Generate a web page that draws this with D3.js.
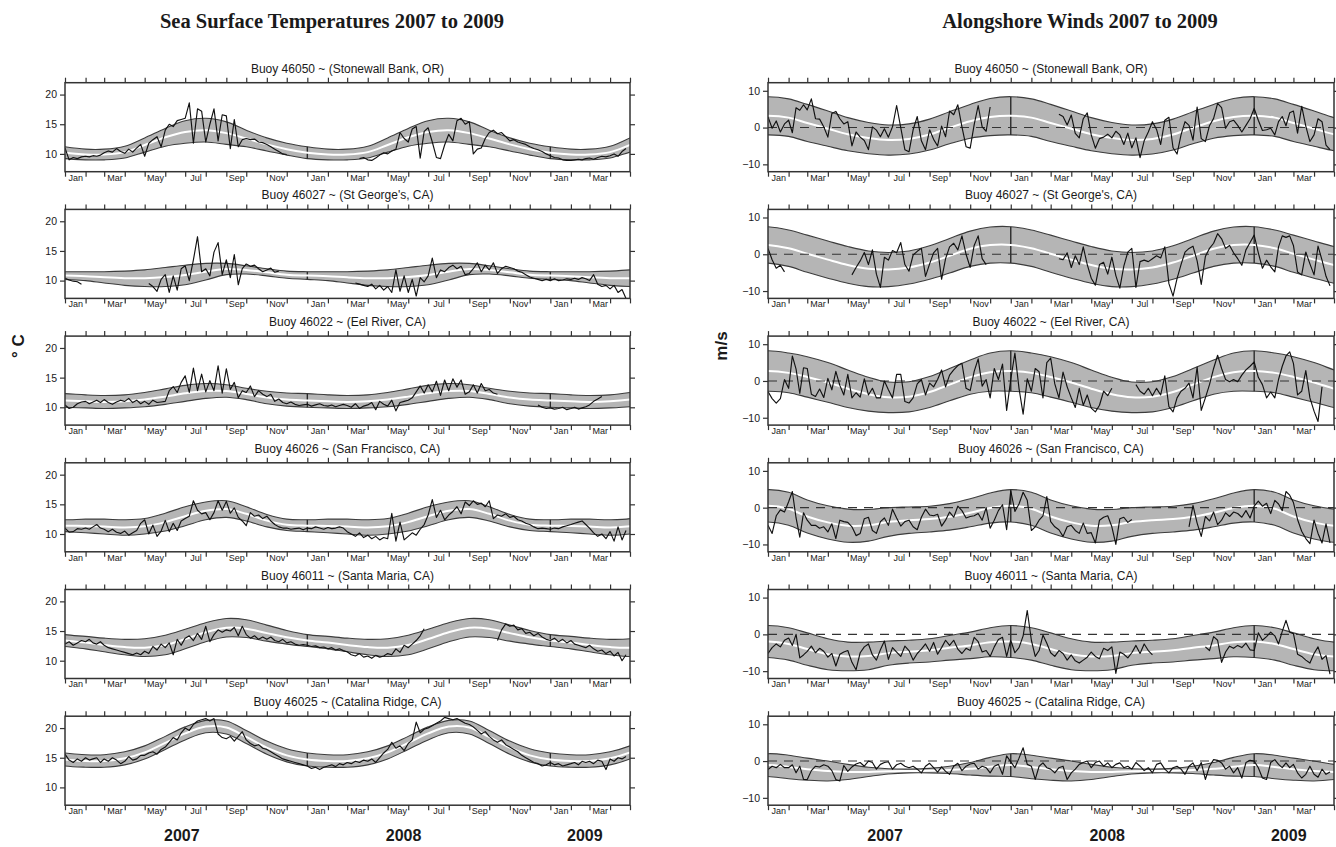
<!DOCTYPE html>
<html>
<head>
<meta charset="utf-8">
<script src="https://cdn.jsdelivr.net/npm/d3@7"></script>
<style>
  body { margin: 0; background: #fff; }
  svg { display: block; }
  text { font-family: "Liberation Sans", Arial, Helvetica, sans-serif; fill: #1a1a1a; }
</style>
</head>
<body>
<svg id="chart" width="1336" height="847"></svg>
<script>
// ---------------------------------------------------------------
// Buoy records, Jan 2007 – Apr 2009.
// Observations: 5 samples per calendar month (null = no data).
// Seasonal climatology: mean and spread at each month start (Jan..Dec).
// ---------------------------------------------------------------
const buoyTitles = [
  "Buoy 46050 ~ (Stonewall Bank, OR)",
  "Buoy 46027 ~ (St George's, CA)",
  "Buoy 46022 ~ (Eel River, CA)",
  "Buoy 46026 ~ (San Francisco, CA)",
  "Buoy 46011 ~ (Santa Maria, CA)",
  "Buoy 46025 ~ (Catalina Ridge, CA)"
];
const yearLabels = ["2007", "2008", "2009"];
const yearLabelDates = [new Date(2007, 5, 26), new Date(2008, 4, 25), new Date(2009, 1, 22)];
const sstTicks = [10, 15, 20];
const windTicks = [-10, 0, 10];

// --- Sea surface temperature climatology (°C) ---
const sst46050Mean   = [10.2, 9.9, 9.9, 10.3, 11.5, 12.8, 13.7, 14.0, 13.5, 12.6, 11.6, 10.8];
const sst46050Spread = [1.0, 0.9, 0.9, 1.0, 1.2, 1.5, 1.9, 2.0, 1.9, 1.4, 1.1, 1.0];
const sst46027Mean   = [10.85, 10.75, 10.55, 10.4, 10.4, 10.6, 10.95, 11.5, 11.95, 11.8, 11.4, 11.0];
const sst46027Spread = [0.65, 0.75, 0.95, 1.2, 1.4, 1.6, 1.65, 1.4, 0.95, 0.7, 0.6, 0.6];
const sst46022Mean   = [11.15, 11.0, 10.9, 11.0, 11.3, 11.8, 12.35, 12.75, 12.75, 12.25, 11.65, 11.3];
const sst46022Spread = [1.15, 1.1, 1.1, 1.1, 1.2, 1.3, 1.35, 1.25, 1.05, 0.95, 1.05, 1.1];
const sst46026Mean   = [11.4, 11.35, 11.25, 11.1, 11.3, 12.0, 13.0, 13.9, 14.2, 13.4, 12.25, 11.55];
const sst46026Spread = [1.0, 1.15, 1.25, 1.3, 1.3, 1.5, 1.6, 1.5, 1.4, 1.2, 1.05, 0.95];
const sst46011Mean   = [13.4, 13.05, 12.65, 12.3, 12.2, 12.65, 13.65, 14.8, 15.55, 15.4, 14.65, 13.95];
const sst46011Spread = [1.0, 1.05, 1.15, 1.3, 1.5, 1.65, 1.65, 1.6, 1.55, 1.5, 1.35, 1.15];
const sst46025Mean   = [14.7, 14.45, 14.45, 14.9, 15.9, 17.5, 19.1, 20.25, 20.1, 18.5, 16.7, 15.4];
const sst46025Spread = [1.1, 1.05, 1.05, 1.1, 1.1, 1.1, 1.1, 1.05, 1.1, 1.1, 1.1, 1.1];

// --- Alongshore wind climatology (m/s) ---
const wind46050Mean   = [3.2, 2.7, 1.25, -0.3, -1.8, -2.85, -3.4, -3.1, -1.9, -0.05, 1.7, 2.85];
const wind46050Spread = [5.2, 5.1, 5.05, 4.8, 4.5, 4.25, 4.1, 4.1, 4.2, 4.35, 4.6, 5.05];
const wind46027Mean   = [2.55, 1.65, 0.15, -1.45, -2.9, -3.95, -4.15, -3.6, -2.25, -0.4, 1.5, 2.5];
const wind46027Spread = [4.95, 4.95, 5.05, 5.05, 5.0, 4.85, 4.65, 4.5, 4.55, 4.7, 4.8, 4.9];
const wind46022Mean   = [2.7, 2.2, 1.1, -0.4, -2.1, -3.6, -4.45, -4.3, -3.0, -1.0, 1.05, 2.4];
const wind46022Spread = [5.5, 5.4, 5.5, 5.4, 5.1, 4.6, 4.15, 4.1, 4.2, 4.4, 4.65, 5.2];
const wind46026Mean   = [0.5, -0.3, -2.4, -4.0, -4.9, -4.8, -3.9, -3.4, -3.1, -2.5, -1.4, -0.1];
const wind46026Spread = [4.4, 4.5, 4.5, 4.5, 4.5, 4.3, 3.9, 3.6, 3.5, 3.6, 3.8, 4.1];
const wind46011Mean   = [-1.95, -2.6, -4.0, -5.4, -6.0, -5.85, -5.1, -4.7, -4.35, -3.65, -3.0, -2.15];
const wind46011Spread = [4.35, 4.4, 4.4, 4.2, 3.9, 3.75, 3.3, 3.1, 3.15, 3.35, 3.6, 3.95];
const wind46025Mean   = [-1.1, -1.6, -2.2, -2.7, -2.95, -2.95, -2.8, -2.7, -2.6, -2.4, -2.1, -1.55];
const wind46025Spread = [3.1, 3.2, 3.0, 2.7, 2.05, 1.25, 0.7, 0.5, 0.6, 1.0, 1.7, 2.55];

// --- Observed SST (°C) ---
const sst46050 = [
  11.0, 9.0, 9.4, 9.2, 9.5,   9.6, 9.5, 9.7, 9.6, 9.8,   10.2, 10.5, 10.3, 10.9, 10.4,
  10.1, 10.8, 10.3, 11.0, 11.6,   9.6, 11.8, 12.4, 12.9, 11.2,   14.0, 15.0, 14.6, 15.6, 15.8,
  16.0, 18.6, 11.8, 17.6, 17.2,   12.0, 15.0, 17.6, 12.2, 16.6,   16.4, 10.9, 15.8, 11.2, 12.4,
  12.6, 12.4, 12.5, 12.0, 11.9,   11.6, 11.2, 10.8, 10.4, 10.0,   9.9, null, null, null, null,
  null, null, null, null, null,   null, null, null, null, null,   null, null, null, 9.2, 9.4,
  9.0, 8.9, 9.3, 9.8, 10.2,   10.0, 10.5, 10.8, 13.6, 12.6,   12.0, 14.2, 14.6, 9.3, 13.8,
  14.4, 12.0, 9.4, 9.2, 11.5,   13.3, 12.2, 15.6, 16.0, 15.0,   15.4, 10.0, 10.8, 11.0, 12.6,
  13.6, 14.0, 13.4, 13.6, 12.9,   12.2, 12.4, 12.0, 11.8, 11.6,   11.2, 10.9, 10.7, 10.4, 10.0,
  9.7, 9.4, 9.3, 9.0, 8.9,   8.9, 9.0, 9.1, 9.0, 9.2,   9.3, 9.1, 9.4, 9.6, 9.5,
  9.7, 10.0, 9.6, 10.4, 10.9
];
const sst46027 = [
  10.4, 10.1, 9.9, 9.8, 9.4,   null, null, null, null, null,   null, null, null, null, null,
  null, null, null, null, null,   null, 9.5, 9.0, 8.2, 10.2,   11.0, 8.0, 10.8, 8.4, 12.0,
  12.5, 10.0, 13.5, 17.4, 11.5,   12.0, 10.8, 14.8, 16.4, 11.0,   13.5, 10.5, 14.4, 9.3, 12.0,
  12.8, 12.4, 12.6, 12.0, 11.5,   11.8, 12.1, 11.4, 11.6, null,   null, null, null, null, null,
  null, null, null, null, null,   null, null, null, null, null,   null, null, 9.6, 9.4, 9.2,
  9.0, 9.4, 8.6, 9.2, 8.4,   9.0, 8.0, 11.8, 8.2, 10.8,   8.0, 10.2, 7.4, 10.5, 9.8,
  10.8, 13.8, 10.5, 11.8, 11.5,   12.2, 12.6, 12.0, 12.4, 11.0,   11.2, 12.0, 13.0, 11.5, 12.6,
  11.8, 13.0, 11.2, 12.0, 12.4,   12.2, 12.0, 11.6, 11.4, 11.0,   10.6, 10.4, 10.2, 10.0, 10.2,
  10.0, 10.3, 10.0, 10.1, 10.3,   10.2, 10.4, 10.2, 10.5, 10.3,   10.0, 11.0, 9.4, 9.0, 9.2,
  8.6, 9.2, 8.0, 8.5, 7.0
];
const sst46022 = [
  10.4, 9.8, 10.0, 10.6, 10.9,   11.0, 10.6, 10.9, 11.2, 10.8,   11.3, 10.8, 10.5, 10.9, 11.2,
  11.0, 11.5, 10.8, 11.2, 10.6,   11.0, 10.5, 11.2, 10.8, 10.9,   11.0, 12.8, 13.5, 12.5, 14.2,
  15.3, 12.5, 16.6, 12.8, 15.6,   12.6, 14.5, 12.8, 17.0, 12.4,   16.5, 13.0, 14.2, 11.6, 12.8,
  12.5, 13.6, 11.8, 12.8, 12.2,   11.8, 12.2, 11.0, 11.4, 10.8,   10.6, 10.9, 10.5, 10.3, 10.4,
  10.5, 10.2, 10.4, 10.6, 10.3,   10.2, 10.4, 10.1, 10.3, 10.5,   10.3, 10.0, 10.6, 9.8, 10.2,
  10.4, 10.8, 9.6, 11.0, 10.5,   10.2, 11.2, 9.4, 10.8, 11.0,   11.2, 11.6, 12.6, 13.6, 12.4,
  13.8, 12.6, 14.4, 12.0, 14.6,   12.8, 14.8, 13.4, 14.6, 12.2,   12.6, 13.8, 12.4, 14.0, 12.8,
  13.0, 12.4, 12.2, null, null,   null, null, null, null, null,   null, null, 10.4, 10.0, 9.8,
  9.9, 9.7, 9.8, 10.0, 9.6,   9.8, 10.0, 9.7, 9.9, 10.1,   10.4, 11.0, 11.4, 11.8, null,
  null, null, null, null, null
];
const sst46026 = [
  11.0, 10.3, 10.4, 10.9, 10.8,   11.0, 10.8, 11.2, 11.6, 11.0,   10.8, 10.4, 10.8, 10.3, 10.1,
  10.5, 9.8, 10.2, 10.6, 11.8,   12.4, 10.0, 11.5, 9.6, 10.5,   12.3, 10.4, 11.8, 10.6, 12.2,
  12.6, 13.0, 15.6, 14.0, 13.4,   13.6, 12.4, 13.6, 15.6, 14.0,   15.5, 13.5, 14.4, 12.8, 12.2,
  11.4, 13.6, 13.0, 13.2, 12.6,   13.0, 12.2, 11.6, 11.2, 11.0,   11.0, 10.8, 10.9, 11.0, 10.7,
  11.0, 10.9, 11.2, 11.0, 10.8,   11.1, 10.9, 11.0, 11.2, 11.0,   10.4, 10.0, 9.6, 10.2, 9.4,
  9.8, 9.2, 9.6, 9.0, 9.4,   9.2, 13.5, 8.8, 12.0, 9.0,   9.6, 10.2, 9.8, 10.8, 11.6,
  13.2, 15.8, 12.8, 14.0, 12.4,   13.2, 13.8, 14.6, 13.4, 15.4,   14.8, 15.6, 15.0, 15.2, 14.6,
  15.6, 12.6, 13.2, 13.0, 13.4,   12.8, 13.0, 12.4, 12.2, 11.8,   11.6, 11.2, 10.9, 11.0, 10.9,
  10.8, 11.0, 10.9, 11.2, 11.4,   11.6, 11.8, 12.0, 12.2, 11.6,   11.0, 10.2, 9.6, 10.0, 9.2,
  10.4, 8.8, 11.2, 9.0, 10.6
];
const sst46011 = [
  12.8, 13.2, 12.6, 13.0, 13.4,   13.2, 13.6, 13.0, 12.8, 13.2,   12.6, 12.2, 12.0, 11.8, 11.6,
  11.4, 11.2, 11.0, 11.3, 11.0,   11.6, 11.2, 12.4, 11.8, 12.8,   12.2, 13.0, 11.0, 13.6, 12.6,
  13.8, 14.2, 13.4, 14.6, 13.6,   15.8, 13.2, 14.4, 15.2, 14.8,   15.2, 15.0, 15.6, 14.2, 15.8,
  14.4, 13.8, 14.2, 13.6, 14.0,   13.6, 14.0, 13.4, 13.2, 13.6,   13.0, 13.2, 12.8, 12.6, 12.7,
  12.6, 12.4, 12.5, 12.2, 12.3,   12.0, 12.2, 11.8, 12.0, 11.7,   11.5, 11.0, 10.8, 11.2, 10.6,
  10.8, 10.4, 10.9, 10.6, 10.8,   11.2, 11.0, 12.0, 11.4, 12.6,   12.2, 12.8, 13.4, 14.2, 15.4,
  null, null, null, null, null,   null, null, null, null, null,   null, null, null, null, null,
  null, null, 13.4, 15.2, 16.2,   15.8, 16.0, 15.2, 15.4, 14.6,   14.8, 14.2, 14.6, 14.0, 13.6,
  13.4, 13.8, 13.2, 13.6, 13.0,   13.4, 12.8, 12.6, 12.4, 12.2,   12.6, 12.0, 11.6, 11.8, 11.2,
  11.6, 10.8, 11.4, 10.0, 11.0
];
const sst46025 = [
  15.6, 14.6, 14.2, 14.8, 14.4,   15.0, 14.6, 14.8, 15.0, 14.2,   14.8, 14.4, 15.0, 14.6, 14.0,
  14.4, 15.2, 14.6, 14.8, 15.4,   15.4, 15.8, 16.0, 15.6, 16.4,   16.8, 17.6, 18.4, 18.0, 19.2,
  20.0, 19.6, 20.6, 21.2, 21.4,   21.6, 21.2, 21.6, 19.0, 18.4,   18.2, 18.6, 17.8, 18.6, 19.4,
  18.0, 17.4, 17.0, 17.2, 16.6,   16.4, 16.0, 15.6, 15.2, 14.8,   14.6, 14.4, 14.2, 14.0, 13.8,
  13.6, 13.2, 13.4, 13.0, 13.4,   13.6, 13.8, 13.5, 14.0, 13.8,   14.2, 14.0, 14.4, 14.2, 14.6,
  14.4, 14.8, 14.2, 15.0, 15.8,   16.4, 17.6, 16.6, 17.0, 16.2,   17.4, 18.0, 21.0, 19.2, 19.8,
  20.0, 20.4, 20.8, 21.2, 21.8,   21.6, 21.4, 21.6, 21.2, 20.8,   20.6, 20.2, 19.6, 19.0, 19.4,
  18.6, 18.0, 17.6, 18.0, 17.2,   16.8, 16.4, 16.0, 15.4, 15.0,   14.6, 14.2, 14.0, 13.6, 13.8,
  14.2, 13.8, 14.0, 13.6, 13.8,   14.0, 14.2, 13.8, 14.4, 14.2,   14.4, 14.0, 14.6, 14.4, 13.0,
  14.8, 14.4, 15.0, 14.8, 15.2
];

// --- Observed alongshore wind (m/s) ---
const wind46050 = [
  2.9, -0.2, 1.8, -1.2, 1.0,   2.0, -1.4, 5.4, 4.7, 6.2,   4.8, 7.8, 2.4, 2.3, 0.2,
  -2.6, 3.8, 4.4, 2.4, 1.0,   1.6, -5.0, -1.2, -2.6, -3.5,   -6.0, 0.2, -0.7, -2.5, -0.3,
  -2.6, 0.2, 6.0, 0.0, -6.0,   -6.6, -0.6, 3.0, -3.6, -6.0,   -0.6, -3.2, -5.0, 0.4, -2.5,
  4.5, 3.5, 6.2, 0.2, -5.2,   -5.6, 0.8, 6.0, 0.2, -1.0,   5.6, null, null, null, null,
  null, null, null, null, null,   null, null, null, null, null,   null, null, 3.6, 3.0, 0.7,
  3.4, -1.6, -2.8, 2.4, 4.0,   -2.0, -5.6, -3.0, -2.6, -1.8,   -2.8, -1.0, -2.0, -4.6, -1.5,
  -5.5, -2.8, -8.2, -3.6, -1.2,   1.6, -0.5, -4.6, 2.0, 2.8,   -5.5, -7.2, -2.0, 1.6, 0.6,
  -3.4, 5.6, -3.0, -3.8, 0.5,   2.5, 6.6, 5.4, -0.2, 1.6,   2.0, 0.6, -1.2, 0.6, 2.4,
  5.2, 2.0, -0.8, -0.6, -0.2,   -2.0, 1.6, 3.0, 0.5, 4.0,   4.5, -1.5, 5.8, 0.4, -3.8,
  -2.0, 2.4, 1.6, -4.8, -6.0
];
const wind46027 = [
  1.6, -1.5, -3.8, -3.0, -4.8,   null, null, null, null, null,   null, null, null, null, null,
  null, null, null, null, null,   null, -5.6, -3.6, -1.8, 0.5,   -2.8, 1.2, -5.4, -9.0, -0.8,
  -1.6, 1.0, 0.4, 3.2, -2.8,   -4.6, -0.2, 0.8, 1.6, -6.0,   -2.6, 0.4, 1.6, -6.8, -1.2,
  2.0, 3.0, 1.2, 5.0, 0.0,   -3.6, 2.4, 5.0, -1.2, -2.8,   null, null, null, null, null,
  null, null, null, null, null,   null, null, null, null, null,   null, null, -1.2, -1.5, 0.4,
  -3.6, -0.4, -2.8, 2.0, -2.8,   -6.5, -8.4, -2.8, -2.2, -5.4,   -0.8, -5.8, -9.2, -3.2, 0.6,
  1.6, -9.0, -2.0, -1.6, -2.0,   -1.2, -0.4, -1.0, 2.0, -8.0,   -11.4, -6.6, -2.8, 0.6, 1.6,
  2.2, -1.8, -8.2, -0.6, 1.6,   3.0, 5.6, 4.2, 1.6, 2.4,   0.4, -1.2, -3.0, 1.2, 3.2,
  5.2, 0.4, -3.8, -1.6, -3.4,   -4.8, 2.0, 5.0, 4.6, 5.0,   2.4, -4.8, -5.6, 0.6, -2.6,
  -5.6, 2.2, -1.6, -6.0, -8.6
];
const wind46022 = [
  -2.9, -4.8, -6.0, -4.8, 0.4,   -2.0, 6.8, 3.2, -3.4, 3.6,   3.4, -3.6, -4.2, -2.2, -4.5,
  0.7, -2.4, 2.6, -1.2, -3.8,   1.8, -4.6, -3.2, -4.4, 0.6,   -3.8, -2.0, -4.6, -4.6, 0.0,
  -2.4, -4.6, 1.8, 1.8, -5.6,   -6.0, -4.6, -0.8, 0.4, -3.8,   -0.6, -1.6, 0.4, 3.0, -1.6,
  1.6, 3.0, 4.2, 4.8, -2.0,   -2.6, 2.6, 6.0, -1.4, 0.4,   -4.6, 3.4, 0.4, 4.6, -8.0,
  0.4, 7.6, -2.0, -9.0, 0.6,   -2.8, 3.4, 2.5, -4.6, 5.0,   6.2, -0.8, -4.6, 2.4, -1.6,
  -4.6, -7.2, -2.0, -6.6, -3.8,   -7.4, -8.4, -6.6, -2.8, -4.0,   -2.0, null, null, null, null,
  null, -1.0, -2.8, -3.6, -2.0,   -4.0, -2.0, -3.8, 1.4, -7.0,   -8.4, -4.6, -2.8, -2.0, -0.6,
  -4.6, 3.8, -8.0, -4.6, -1.0,   3.4, 7.0, 3.4, 0.4, -0.2,   0.4, -0.2, 1.6, 3.0, 4.0,
  5.2, 1.0, -1.0, -4.6, -3.0,   -4.6, 0.4, 4.0, 6.8, 7.9,   4.8, -3.8, -2.8, 2.8, -4.6,
  -8.2, -11.0, -1.6, null, null
];
const wind46026 = [
  -4.8, -7.0, -2.2, -0.6, -1.2,   1.6, 4.4, -2.8, -8.0, -1.4,   -3.4, -4.8, -4.8, -5.6, -5.2,
  -6.6, -4.4, -8.4, -3.4, -3.8,   -4.0, -5.2, -7.6, -7.0, -3.0,   -2.6, -6.2, -7.0, -3.8, -2.8,
  -4.8, -0.4, -2.8, -5.0, -3.8,   -3.4, -5.2, -6.0, -2.6, -0.4,   -2.0, -2.2, -1.8, -5.0, -3.4,
  -1.2, -2.6, 0.4, -0.8, -2.8,   -2.4, -2.2, -1.6, -3.4, 0.0,   -5.6, -3.4, -0.8, 0.8, -6.0,
  4.6, -1.0, 1.0, 4.2, 2.0,   -6.2, -5.2, -3.4, -2.2, 3.0,   -3.8, -5.2, -6.0, -7.8, -5.2,
  -4.8, -6.2, -7.0, -4.2, -7.0,   -6.8, -9.6, -3.4, -2.6, -2.2,   -5.2, -10.0, -3.0, -2.6, -4.0,
  -3.2, null, null, null, null,   null, null, null, null, null,   null, null, null, null, -5.2,
  0.6, -4.2, -7.8, -2.4, -3.6,   -1.2, -4.6, -3.4, -1.4, -2.4,   -1.2, -1.6, -2.6, -0.8, -2.8,
  0.4, 1.8, 0.4, 1.2, -1.6,   2.0, 1.0, -0.8, 4.4, 3.4,   1.4, -3.2, -6.4, -8.4, -9.8,
  -3.4, -7.0, -9.6, -4.4, -9.6
];
const wind46011 = [
  -5.2, -3.6, -2.6, -3.4, -1.6,   -1.0, -3.0, 0.0, -6.4, -5.6,   -4.6, -3.2, -5.0, -3.8, -4.6,
  -6.2, -5.2, -8.6, -5.4, -4.8,   -4.4, -7.6, -9.6, -5.0, -3.4,   -2.6, -5.6, -7.0, -4.2, -1.8,
  -6.8, -3.6, -4.8, -6.0, -3.2,   -4.4, -7.0, -5.2, -4.0, -2.6,   -4.6, -2.2, -5.4, -3.6, -1.6,
  -3.0, -1.6, -4.0, -5.2, -3.8,   -4.4, -0.8, -2.0, -4.8, -4.4,   -6.0, -3.4, -1.4, -0.8, -6.0,
  -1.6, -5.0, -3.6, -0.4, 6.5,   -1.6, -6.0, -4.4, -0.2, -2.4,   -5.0, -6.0, -4.4, -5.2, -7.0,
  -5.6, -7.2, -7.8, -7.0, -6.2,   -4.8, -6.0, -6.6, -3.8, -4.4,   -3.4, -10.6, -4.8, -5.4, -6.4,
  -5.0, -3.0, -5.2, -2.6, -4.4,   -5.6, null, null, null, null,   null, null, null, null, null,
  null, null, null, -3.4, -4.4,   -0.6, -1.6, -7.6, -4.8, -3.2,   -3.8, -3.0, -3.6, -2.4, -4.2,
  -4.4, 0.4, -1.6, -0.6, 0.6,   -0.4, -2.6, 0.8, 3.8, 0.6,   0.2, -5.4, -6.0, -7.0, -7.8,
  -5.2, -3.4, -6.8, -5.8, -10.8
];
const wind46025 = [
  -2.3, -1.4, -1.8, -0.9, -1.8,   -1.8, -1.0, -3.2, -1.4, -5.0,   -5.0, -2.6, -1.4, -1.6, -1.0,
  -1.4, -2.6, -5.0, -5.4, -1.2,   -2.8, -1.6, -0.8, -0.4, -1.4,   0.0, -0.4, -2.2, -0.9, -0.4,
  -0.2, -2.2, -1.0, -0.6, -1.4,   -1.8, -1.4, -2.2, -3.2, -1.4,   -0.6, -1.8, -3.0, -1.6, -2.8,
  -3.6, -1.4, -0.6, -2.6, -1.4,   -0.8, -0.6, -2.2, -1.4, -1.8,   -3.2, -1.4, -0.9, -3.6, 1.4,
  -0.2, -1.8, 0.8, 3.6, -0.9,   -1.4, -5.0, -1.4, -0.5, -1.8,   -2.2, -3.2, -1.8, -1.4, -5.0,
  -3.2, -2.2, -0.9, -0.4, 0.0,   -1.8, -0.4, 0.0, -1.4, -0.5,   -1.8, -0.9, -0.5, -1.8, -1.4,
  -2.2, -0.4, -1.4, -2.6, -1.8,   -3.2, -0.9, -0.5, -2.2, -3.2,   -1.8, -1.4, -2.2, -3.6, -1.4,
  -0.5, -2.6, -0.4, -5.0, -1.4,   0.4, 0.2, -0.5, -2.2, -1.4,   -3.2, -1.8, -4.6, -0.4, 0.2,
  0.0, -1.8, -4.6, -5.0, -0.4,   0.4, -0.9, -1.8, -0.5, -1.8,   -0.9, -3.2, -4.6, -3.6, -1.4,
  -3.6, -4.4, -2.2, -3.6, -3.0
];

// ---------------------------------------------------------------
const samplesPerMonth = 5;
const t0 = new Date(2007, 0, 1);
const t1 = new Date(2009, 4, 1);

const sstPanels = [
  { mean: sst46050Mean, spread: sst46050Spread, values: sst46050 },
  { mean: sst46027Mean, spread: sst46027Spread, values: sst46027 },
  { mean: sst46022Mean, spread: sst46022Spread, values: sst46022 },
  { mean: sst46026Mean, spread: sst46026Spread, values: sst46026 },
  { mean: sst46011Mean, spread: sst46011Spread, values: sst46011 },
  { mean: sst46025Mean, spread: sst46025Spread, values: sst46025 }
];
const windPanels = [
  { mean: wind46050Mean, spread: wind46050Spread, values: wind46050 },
  { mean: wind46027Mean, spread: wind46027Spread, values: wind46027 },
  { mean: wind46022Mean, spread: wind46022Spread, values: wind46022 },
  { mean: wind46026Mean, spread: wind46026Spread, values: wind46026 },
  { mean: wind46011Mean, spread: wind46011Spread, values: wind46011 },
  { mean: wind46025Mean, spread: wind46025Spread, values: wind46025 }
];

const columns = [
  { title: "Sea Surface Temperatures 2007 to 2009", titleX: 332, x0: 65, w: 565,
    domain: [7, 22], ticks: sstTicks, panels: sstPanels, zeroLine: false,
    unit: "° C", unitX: 24 },
  { title: "Alongshore Winds 2007 to 2009", titleX: 1080, x0: 768, w: 566,
    domain: [-12, 12.2], ticks: windTicks, panels: windPanels, zeroLine: true,
    unit: "m/s", unitX: 727 }
];

const panelTop0 = 82.7, panelStep = 126.7, panelH = 89;
const svg = d3.select("#chart");

// date of observation i (5 evenly spaced samples inside each month)
function sampleDate(i) {
  const m = Math.floor(i / samplesPerMonth), k = i % samplesPerMonth;
  const a = d3.timeMonth.offset(t0, m), b = d3.timeMonth.offset(t0, m + 1);
  return new Date(+a + (b - a) * k / samplesPerMonth);
}

// month-start nodes of the repeating climatology, padded one month each side
const climDates = d3.timeMonth.range(new Date(2006, 11, 1), new Date(2009, 6, 1));
const yearSeams = [new Date(2008, 0, 1), new Date(2009, 0, 1)];
const labelMonths = d3.timeMonth.range(t0, t1)
  .filter(d => d.getMonth() % 2 === 0)
  .map(d => new Date((+d + +d3.timeMonth.offset(d, 1)) / 2));

let clipId = 0;

columns.forEach(col => {
  const x = d3.scaleTime().domain([t0, t1]).range([0, col.w]);

  svg.append("text")
    .attr("x", col.titleX).attr("y", 28)
    .attr("text-anchor", "middle")
    .style("font-family", "'Liberation Serif', 'Times New Roman', serif")
    .style("font-weight", "bold").style("font-size", "20.5px")
    .text(col.title);

  col.panels.forEach((p, j) => {
    const top = panelTop0 + j * panelStep;
    const g = svg.append("g").attr("transform", `translate(${col.x0},${top})`);
    const y = d3.scaleLinear().domain(col.domain).range([panelH, 0]);

    const id = "clip" + (clipId++);
    g.append("clipPath").attr("id", id)
      .append("rect").attr("width", col.w).attr("height", panelH);
    const plot = g.append("g").attr("clip-path", `url(#${id})`);

    const clim = climDates.map(d => ({
      date: d, mean: p.mean[d.getMonth()], sd: p.spread[d.getMonth()]
    }));
    const curve = d3.curveCatmullRom.alpha(0.5);

    // seasonal envelope
    plot.append("path").datum(clim)
      .attr("fill", "#b5b5b5")
      .attr("d", d3.area().curve(curve)
        .x(d => x(d.date))
        .y0(d => y(d.mean - d.sd))
        .y1(d => y(d.mean + d.sd)));
    [1, -1].forEach(s => {
      plot.append("path").datum(clim)
        .attr("fill", "none").attr("stroke", "#3c3c3c").attr("stroke-width", 1.1)
        .attr("d", d3.line().curve(curve)
          .x(d => x(d.date)).y(d => y(d.mean + s * d.sd)));
    });
    // seams between the yearly envelopes
    plot.selectAll(".seam").data(yearSeams).join("line")
      .attr("x1", d => x(d)).attr("x2", d => x(d))
      .attr("y1", y(p.mean[0] - p.spread[0]))
      .attr("y2", y(p.mean[0] + p.spread[0]))
      .attr("stroke", "#2a2a2a").attr("stroke-width", 1.4);
    // climatological mean
    plot.append("path").datum(clim)
      .attr("fill", "none").attr("stroke", "#ffffff").attr("stroke-width", 2)
      .attr("d", d3.line().curve(curve).x(d => x(d.date)).y(d => y(d.mean)));

    if (col.zeroLine) {
      plot.append("line")
        .attr("x1", 0).attr("x2", col.w)
        .attr("y1", y(0)).attr("y2", y(0))
        .attr("stroke", "#333").attr("stroke-width", 1.1)
        .attr("stroke-dasharray", "9,7");
    }

    // observations
    const obs = p.values.map((v, i) => ({ date: sampleDate(i), v }));
    plot.append("path").datum(obs)
      .attr("fill", "none").attr("stroke", "#111").attr("stroke-width", 1.15)
      .attr("stroke-linejoin", "round")
      .attr("d", d3.line().defined(d => d.v != null)
        .x(d => x(d.date)).y(d => y(d.v)));

    // frame
    g.append("rect").attr("width", col.w).attr("height", panelH)
      .attr("fill", "none").attr("stroke", "#333").attr("stroke-width", 1.5);

    // month ticks (top and bottom)
    const monthTicks = d3.timeMonth.every(1);
    const topAx = g.append("g")
      .call(d3.axisTop(x).ticks(monthTicks).tickFormat("").tickSize(5).tickSizeOuter(0));
    const botAx = g.append("g").attr("transform", `translate(0,${panelH})`)
      .call(d3.axisBottom(x).ticks(monthTicks).tickFormat("").tickSize(5).tickSizeOuter(0));
    const lblAx = g.append("g").attr("transform", `translate(0,${panelH})`)
      .call(d3.axisBottom(x).tickValues(labelMonths).tickSize(0).tickPadding(2.5)
        .tickFormat(d3.timeFormat("%b")));
    lblAx.selectAll("text").style("font-size", "9px").attr("fill", "#2a2a2a");

    // value ticks (left labelled, right unlabelled)
    const leftAx = g.append("g")
      .call(d3.axisLeft(y).tickValues(col.ticks).tickSize(5).tickPadding(3)
        .tickFormat(d3.format("d")));
    leftAx.selectAll("text").style("font-size", "10.5px").attr("fill", "#222");
    const rightAx = g.append("g").attr("transform", `translate(${col.w},0)`)
      .call(d3.axisRight(y).tickValues(col.ticks).tickSize(5).tickFormat(""));

    [topAx, botAx, lblAx, leftAx, rightAx].forEach(a => {
      a.select(".domain").remove();
      a.selectAll("line").attr("stroke", "#333").attr("stroke-width", 1.2);
    });

    // panel caption
    g.append("text")
      .attr("x", col.w / 2).attr("y", -10)
      .attr("text-anchor", "middle")
      .style("font-size", "12px").attr("fill", "#222")
      .text(buoyTitles[j]);

    // year captions under the last panel
    if (j === col.panels.length - 1) {
      g.selectAll(".year").data(yearLabels).join("text")
        .attr("x", (d, i) => x(yearLabelDates[i]))
        .attr("y", panelH + 36)
        .attr("text-anchor", "middle")
        .style("font-size", "16px").style("font-weight", "bold")
        .text(d => d);
    }
  });

  // unit label
  svg.append("text")
    .attr("transform", `translate(${col.unitX},346) rotate(-90)`)
    .attr("text-anchor", "middle")
    .style("font-size", "17px").style("font-weight", "bold")
    .text(col.unit);
});
</script>
</body>
</html>
